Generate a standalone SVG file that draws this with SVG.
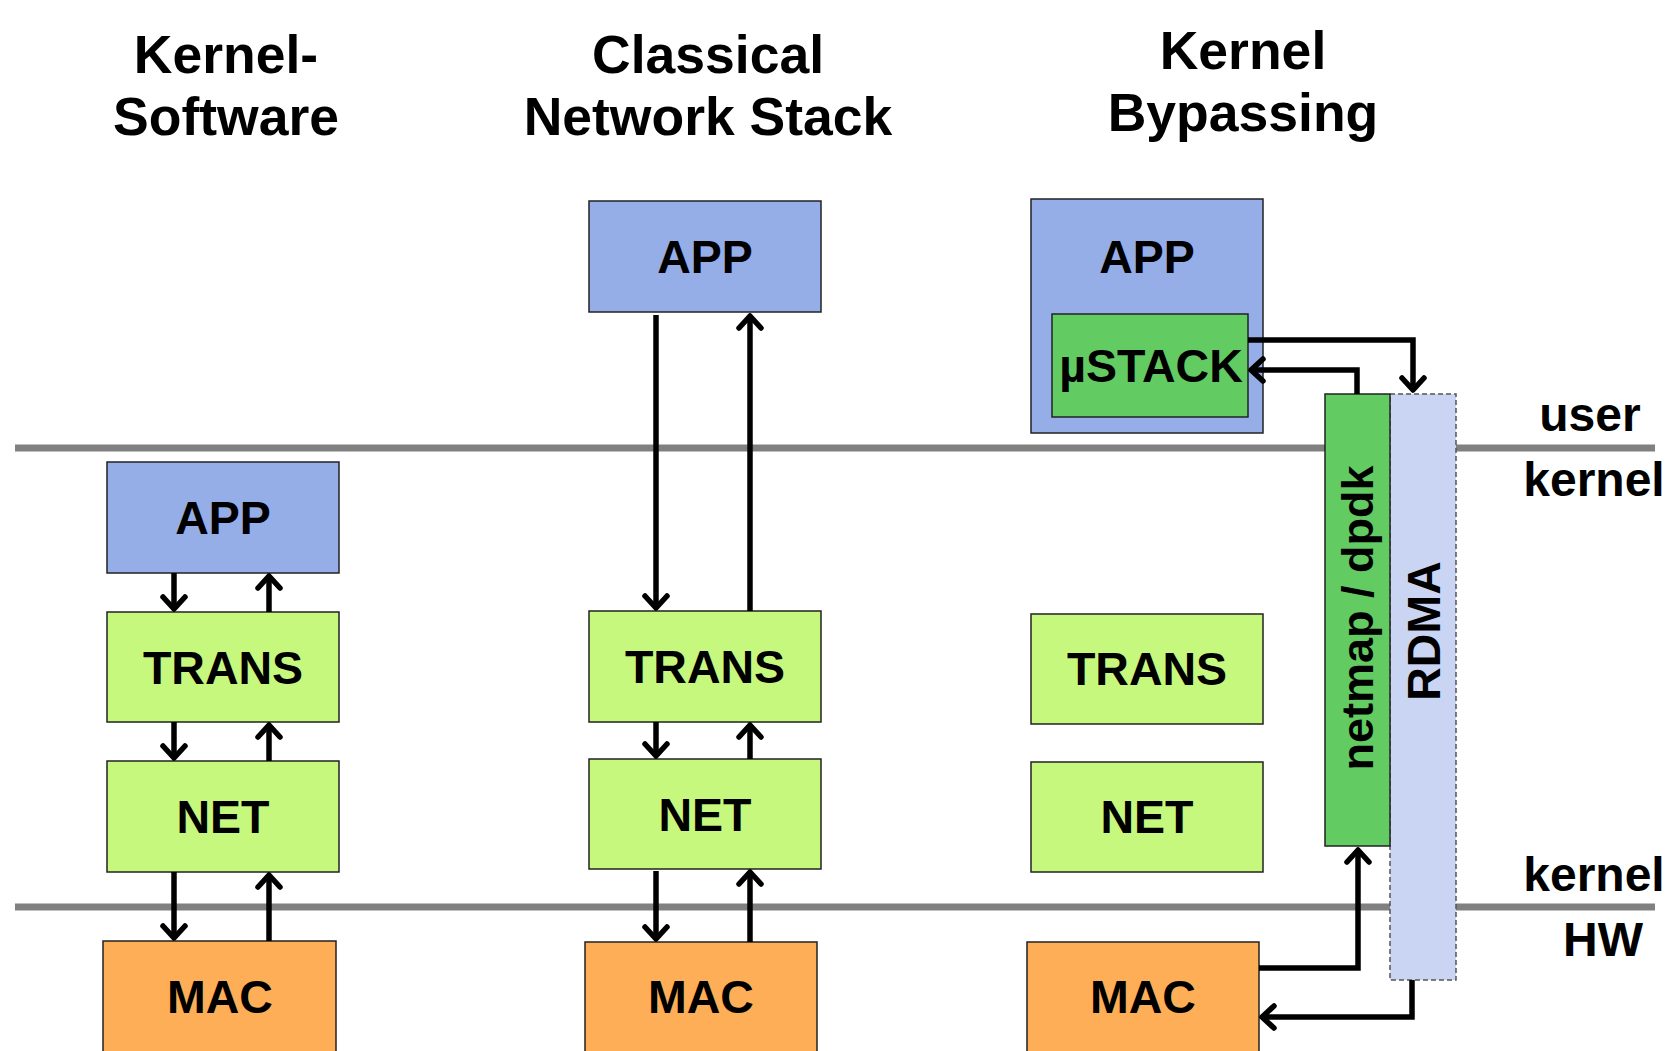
<svg xmlns="http://www.w3.org/2000/svg" width="1671" height="1051" viewBox="0 0 1671 1051">
<defs>
<marker id="ah" markerUnits="userSpaceOnUse" markerWidth="34" markerHeight="34" viewBox="-17 -17 34 34" refX="0" refY="0" orient="auto">
<path d="M-12,-11 L0,0 L-12,11" fill="none" stroke="#000" stroke-width="5.5" stroke-linecap="round" stroke-linejoin="round"/>
</marker>
</defs>
<style>
.t{font-family:"Liberation Sans",Arial,sans-serif;font-weight:bold;fill:#000;text-anchor:middle}
.title{font-size:53.5px}
.lbl{font-size:46.5px}
.side{font-size:48px}
.nm{font-size:45px}
.box{stroke:#222;stroke-width:1.5}
.app{fill:#95aee8}
.lg{fill:#c6f87e}
.dg{fill:#62cc62}
.mac{fill:#fdae56}
.rdma{fill:#c9d5f2;stroke:#555;stroke-width:1.5;stroke-dasharray:5 3}
.sep{stroke:#808080;stroke-width:7}
.c{fill:none;stroke:#000;stroke-width:5.5;marker-end:url(#ah)}
</style>
<rect width="1671" height="1051" fill="#fff"/>
<g id="titles">
<text class="t title" x="226" y="73">Kernel-</text>
<text class="t title" x="226" y="135">Software</text>
<text class="t title" x="708" y="73">Classical</text>
<text class="t title" x="708" y="135">Network Stack</text>
<text class="t title" x="1243" y="69">Kernel</text>
<text class="t title" x="1243" y="131">Bypassing</text>
</g>
<g id="separators">
<line class="sep" x1="15" y1="448" x2="1655" y2="448"/>
<line class="sep" x1="15" y1="907" x2="1655" y2="907"/>
</g>
<g id="layer-labels">
<text class="t side" x="1590" y="431">user</text>
<text class="t side" x="1594" y="496">kernel</text>
<text class="t side" x="1594" y="891">kernel</text>
<text class="t side" x="1603" y="956">HW</text>
</g>
<g id="ks-app"><rect class="box app" x="107" y="462" width="232" height="111"/><text class="t lbl" x="223" y="534">APP</text></g>
<g id="ks-trans"><rect class="box lg" x="107" y="612" width="232" height="110"/><text class="t lbl" x="223" y="684">TRANS</text></g>
<g id="ks-net"><rect class="box lg" x="107" y="761" width="232" height="111"/><text class="t lbl" x="223" y="833">NET</text></g>
<g id="ks-mac"><rect class="box mac" x="103" y="941" width="233" height="120"/><text class="t lbl" x="220" y="1013">MAC</text></g>
<g id="cl-app"><rect class="box app" x="589" y="201" width="232" height="111"/><text class="t lbl" x="705" y="273">APP</text></g>
<g id="cl-trans"><rect class="box lg" x="589" y="611" width="232" height="111"/><text class="t lbl" x="705" y="683">TRANS</text></g>
<g id="cl-net"><rect class="box lg" x="589" y="759" width="232" height="110"/><text class="t lbl" x="705" y="831">NET</text></g>
<g id="cl-mac"><rect class="box mac" x="585" y="942" width="232" height="120"/><text class="t lbl" x="701" y="1013">MAC</text></g>
<g id="kb-app"><rect class="box app" x="1031" y="199" width="232" height="234"/><text class="t lbl" x="1147" y="273">APP</text></g>
<g id="kb-ustack"><rect class="box dg" x="1052" y="314" width="196" height="103"/><text class="t lbl" x="1151" y="382">µSTACK</text></g>
<g id="kb-trans"><rect class="box lg" x="1031" y="614" width="232" height="110"/><text class="t lbl" x="1147" y="685">TRANS</text></g>
<g id="kb-net"><rect class="box lg" x="1031" y="762" width="232" height="110"/><text class="t lbl" x="1147" y="833">NET</text></g>
<g id="kb-mac"><rect class="box mac" x="1027" y="942" width="232" height="120"/><text class="t lbl" x="1143" y="1013">MAC</text></g>
<g id="kb-rdma"><rect class="rdma" x="1390" y="394" width="66" height="586"/><text class="t lbl" transform="translate(1440,631) rotate(-90)" x="0" y="0">RDMA</text></g>
<g id="kb-netmap"><rect class="box dg" x="1325" y="394" width="65" height="452"/><text class="t nm" transform="translate(1373,618) rotate(-90)" x="0" y="0">netmap / dpdk</text></g>
<g id="connectors">
<line class="c" x1="174" y1="573" x2="174" y2="609"/>
<line class="c" x1="269" y1="612" x2="269" y2="576"/>
<line class="c" x1="174" y1="722" x2="174" y2="758"/>
<line class="c" x1="269" y1="761" x2="269" y2="725"/>
<line class="c" x1="174" y1="872" x2="174" y2="938"/>
<line class="c" x1="269" y1="941" x2="269" y2="875"/>
<line class="c" x1="656" y1="315" x2="656" y2="608"/>
<line class="c" x1="750" y1="611" x2="750" y2="316"/>
<line class="c" x1="656" y1="722" x2="656" y2="756"/>
<line class="c" x1="750" y1="759" x2="750" y2="725"/>
<line class="c" x1="656" y1="871" x2="656" y2="939"/>
<line class="c" x1="750" y1="942" x2="750" y2="872"/>
<path class="c" d="M1248,340 H1413 V390"/>
<path class="c" d="M1357,394 V370 H1251"/>
<path class="c" d="M1259,968 H1358 V850"/>
<path class="c" d="M1412,980 V1017 H1262"/>
</g>
</svg>
